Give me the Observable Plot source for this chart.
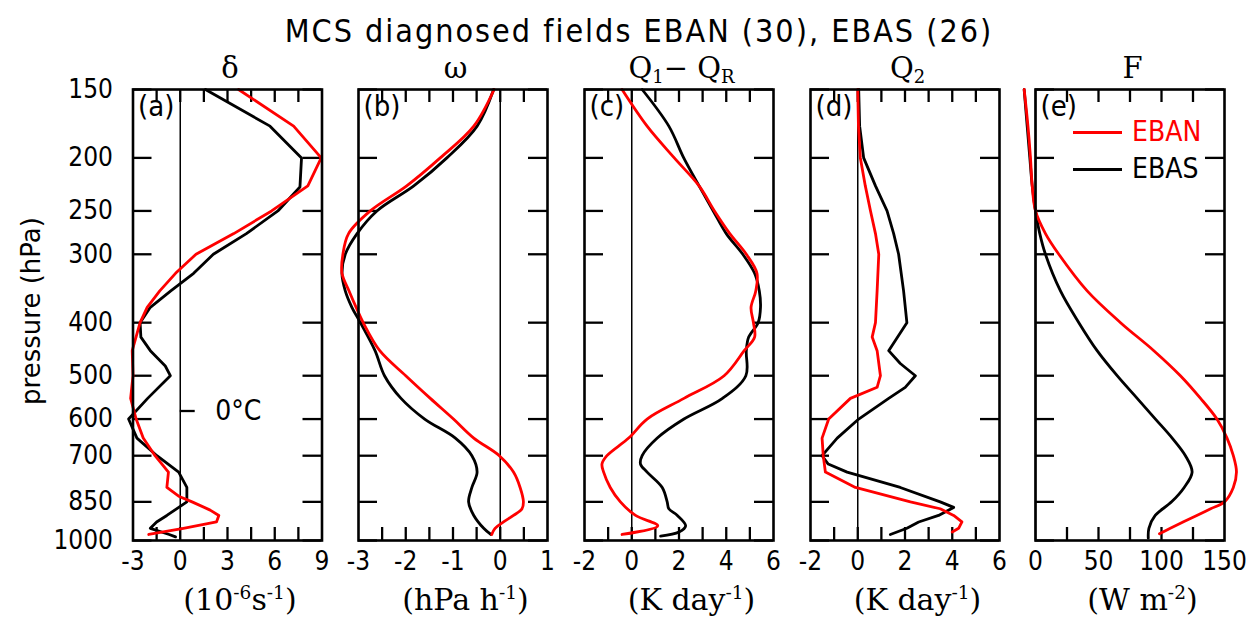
<!DOCTYPE html>
<html>
<head>
<meta charset="utf-8">
<script src="https://cdn.jsdelivr.net/npm/d3@7"></script>
<script src="https://cdn.jsdelivr.net/npm/@observablehq/plot@0.6"></script>
<style>
  html, body { margin: 0; padding: 0; background: #fff; }
  #fig { position: relative; width: 1250px; height: 619px; overflow: hidden; background: #fff; color: #000; }
  .abs { position: absolute; white-space: nowrap; line-height: 1; }
  .hershey { font-family: "DejaVu Sans Condensed", "DejaVu Sans", sans-serif; }
  .serif { font-family: "DejaVu Serif", "Liberation Serif", serif; }
  .center { transform: translate(-50%, -50%); }
  sub, sup { font-size: 0.62em; line-height: 0; }
  sup { vertical-align: 0.6em; }
  sub { vertical-align: -0.3em; }
</style>
</head>
<body>
<div id="fig"></div>
<script>
// ---------------- data ----------------
const pressureTicks = [150, 200, 250, 300, 400, 500, 600, 700, 850, 1000];
const seriesNames = ["EBAN", "EBAS"];
const seriesColors = ["#ff0000", "#000000"];

// (a) divergence delta (1e-6 s^-1)
const deltaP_EBAS = [150,175,200,226,250,275,300,325,350,375,400,425,450,480,500,550,600,650,700,750,800,850,900,925,950,975,985];
const deltaEBAS   = [1.6,5.7,7.7,7.6,6.2,4.2,2.1,0.85,-0.6,-1.9,-2.55,-2.5,-1.9,-0.95,-0.63,-2.07,-3.28,-2.75,-1.48,-0.1,0.42,0.42,-0.85,-1.5,-1.9,-0.7,-0.3];
const deltaP_EBAN = [150,175,200,225,250,275,300,325,350,375,400,450,500,550,600,650,700,750,800,830,850,880,900,925,950,975];
const deltaEBAN   = [3.7,7.2,8.95,8.1,5.8,3.4,1.0,-0.3,-1.3,-2.1,-2.55,-3.05,-3.0,-3.15,-2.8,-2.35,-1.6,-0.75,-0.85,-0.1,0.75,1.9,2.45,2.3,0.2,-2.0];
const deltaMinor  = [-1.5,0,1.5,3,4.5,6,7.5];
const deltaLabels = [-3,0,3,6,9];
const freezingLevel = 580;
const freezingLabel = "0°C";

// (b) omega (hPa h^-1)
const omegaP_EBAS = [150,175,200,225,250,275,300,325,350,375,400,450,500,550,600,650,700,750,800,850,900,950,975];
const omegaEBAS   = [-0.14,-0.49,-1.13,-1.83,-2.61,-3.03,-3.28,-3.35,-3.28,-3.14,-2.96,-2.65,-2.45,-2.1,-1.6,-0.95,-0.6,-0.49,-0.6,-0.67,-0.56,-0.35,-0.2];
const omegaP_EBAN = [150,175,200,225,250,275,300,325,350,375,400,450,500,550,600,650,700,750,800,850,875,900,925,950,975];
const omegaEBAN   = [-0.13,-0.56,-1.27,-1.98,-2.75,-3.21,-3.33,-3.35,-3.2,-3.05,-2.9,-2.55,-2.0,-1.48,-0.99,-0.56,-0.02,0.28,0.42,0.49,0.46,0.28,0.07,-0.11,-0.18];
const omegaMinor  = [-2.5,-2,-1.5,-1,-0.5,0,0.5];
const omegaLabels = [-3,-2,-1,0,1];

// (c) Q1 - QR (K day^-1)
const q1P_EBAS = [150,175,200,225,250,275,300,325,350,375,400,425,450,500,550,600,650,700,725,750,800,850,875,900,940,965,982];
const q1EBAS   = [0.44,1.57,2.2,2.85,3.45,4.0,4.7,5.2,5.4,5.45,5.35,4.95,4.85,4.83,3.84,2.21,1.08,0.44,0.37,0.65,1.29,1.5,1.57,1.93,2.28,2.0,1.22];
const q1P_EBAN = [150,175,200,225,250,275,300,325,350,375,400,425,450,500,550,600,650,700,725,750,800,850,900,940,975];
const q1EBAN   = [-0.41,0.65,1.8,2.85,3.5,4.15,4.85,5.3,5.25,5.05,5.15,5.2,4.76,3.91,2.21,0.65,-0.13,-1.05,-1.26,-1.19,-0.91,-0.48,0.16,1.1,-0.41];
const q1Minor  = [-1,0,1,2,3,4,5];
const q1Labels = [-2,0,2,4,6];

// (d) Q2 (K day^-1)
const q2P_EBAS = [150,175,200,225,250,275,300,350,400,450,475,500,525,550,600,650,700,725,750,800,850,870,900,925,950,975];
const q2EBAS   = [0.04,0.08,0.25,0.75,1.24,1.52,1.73,1.94,2.08,1.31,1.8,2.44,2.01,1.31,0.04,-0.87,-1.51,-1.25,-0.45,1.8,3.49,4.06,3.42,2.58,2.08,1.38];
const q2P_EBAN = [150,175,200,225,250,275,300,350,400,425,450,500,525,550,600,650,700,750,800,850,875,900,925,950,965];
const q2EBAN   = [0,0.03,0.11,0.32,0.54,0.75,0.89,0.82,0.75,0.61,0.82,0.96,0.82,-0.31,-1.23,-1.51,-1.46,-1.37,-0.1,2.23,3.49,4.06,4.41,4.27,4.0];
const q2Minor  = [-1,0,1,2,3,4,5];
const q2Labels = [-2,0,2,4,6];

// (e) F (W m^-2)
const fP_EBAS = [150,175,200,225,250,275,300,350,400,450,500,550,600,650,700,750,800,850,900,950,990];
const fEBAS   = [-9,-6.6,-4.5,-2.6,0,3.4,7.9,19.8,34.4,48.9,64.8,80.7,95.2,108.5,119,124.3,118,108,95,90,89.5];
const fP_EBAN = [150,175,200,225,250,275,300,350,400,450,500,550,600,650,700,750,800,850,875,900,950,972];
const fEBAN   = [-9,-6,-4,-2.6,0,7.9,18.5,41,67.5,93.9,115,131,144,152,157,159.5,157,150,139,128,107,98.4];
const fMinor  = [25,50,75,100,125];
const fLabels = [0,50,100,150];

const panelTags   = ["(a)", "(b)", "(c)", "(d)", "(e)"];
const panelTitles = ["δ", "ω", "Q<sub>1</sub>− Q<sub>R</sub>", "Q<sub>2</sub>", "F"];
const panelUnits  = ["(10<sup>-6</sup>s<sup>-1</sup>)", "(hPa h<sup>-1</sup>)", "(K day<sup>-1</sup>)", "(K day<sup>-1</sup>)", "(W m<sup>-2</sup>)"];
const titleText = "MCS diagnosed fields EBAN (30), EBAS (26)";
const yLabel = "pressure (hPa)";

// ---------------- layout ----------------
const FRAME_TOP = 89, FRAME_H = 451, FRAME_W = 189;
const MT = 12, MB = 52;
const FONT = '"DejaVu Sans Condensed","DejaVu Sans",sans-serif';
const fig = document.getElementById("fig");

function addHTML(html, cls, style) {
  const d = document.createElement("div");
  d.className = "abs " + cls;
  d.innerHTML = html;
  Object.assign(d.style, style);
  fig.appendChild(d);
  return d;
}

const panels = [
  {left: 132.5, domain: [-3, 9], minor: deltaMinor, labels: deltaLabels, eP: deltaP_EBAS, e: deltaEBAS, nP: deltaP_EBAN, n: deltaEBAN, curve: "linear", yAxis: true, freezing: true},
  {left: 358, domain: [-3, 1], minor: omegaMinor, labels: omegaLabels, eP: omegaP_EBAS, e: omegaEBAS, nP: omegaP_EBAN, n: omegaEBAN, curve: "catmull-rom"},
  {left: 584, domain: [-2, 6], minor: q1Minor, labels: q1Labels, eP: q1P_EBAS, e: q1EBAS, nP: q1P_EBAN, n: q1EBAN, curve: "catmull-rom"},
  {left: 810, domain: [-2, 6], minor: q2Minor, labels: q2Labels, eP: q2P_EBAS, e: q2EBAS, nP: q2P_EBAN, n: q2EBAN, curve: "linear"},
  {left: 1035, domain: [0, 150], minor: fMinor, labels: fLabels, eP: fP_EBAS, e: fEBAS, nP: fP_EBAN, n: fEBAN, curve: "catmull-rom"}
];

const rows = (P, V) => P.map((p, i) => ({p, v: V[i]}));
const tickStyle = {stroke: "#000", strokeOpacity: 1, strokeWidth: 2.3};

panels.forEach((cfg, k) => {
  const ml = cfg.yAxis ? cfg.left : 24;
  const mr = 30;
  const marks = [
    Plot.ruleX([0], {stroke: "#000", strokeWidth: 1.5}),
    Plot.gridX(cfg.minor, {insetTop: FRAME_H - 13, ...tickStyle}),
    Plot.gridX(cfg.minor, {insetBottom: FRAME_H - 13, ...tickStyle}),
    Plot.gridY(pressureTicks, {insetRight: FRAME_W - 19, ...tickStyle}),
    Plot.gridY(pressureTicks, {insetLeft: FRAME_W - 19, ...tickStyle}),
    Plot.axisX(cfg.labels, {anchor: "bottom", tickSize: 0, tickPadding: 11, tickFormat: d => String(d), label: null, fontSize: 26}),
    Plot.line(rows(cfg.eP, cfg.e), {x: "v", y: "p", stroke: seriesColors[1], strokeWidth: 2.8, curve: cfg.curve, strokeLinejoin: "round"}),
    Plot.line(rows(cfg.nP, cfg.n), {x: "v", y: "p", stroke: seriesColors[0], strokeWidth: 2.8, curve: cfg.curve, strokeLinejoin: "round"}),
    Plot.frame({stroke: "#000", strokeWidth: 2.6}),
    Plot.text([panelTags[k]], {frameAnchor: "top-left", dx: 5, dy: 6, textAnchor: "start", lineAnchor: "top", fontSize: 29})
  ];
  if (cfg.yAxis) {
    marks.push(Plot.axisY(pressureTicks, {anchor: "left", tickSize: 0, tickPadding: 20, tickFormat: d => String(d), label: null, fontSize: 26}));
    marks.push(Plot.text([yLabel], {frameAnchor: "left", textAnchor: "middle", rotate: -90, dx: -101, dy: -4, fontSize: 26, fontFamily: '"DejaVu Sans", sans-serif'}));
  }
  if (cfg.freezing) {
    marks.push(Plot.ruleY([freezingLevel], {x1: 0, x2: 0.95, stroke: "#000", strokeWidth: 2.3}));
    marks.push(Plot.text([{p: freezingLevel, t: freezingLabel}], {x: 0, y: "p", text: "t", dx: 35, textAnchor: "start", fontSize: 28}));
  }
  const chart = Plot.plot({
    width: ml + FRAME_W + mr,
    height: MT + FRAME_H + MB,
    marginLeft: ml, marginRight: mr, marginTop: MT, marginBottom: MB,
    x: {domain: cfg.domain},
    y: {type: "log", domain: [150, 1000], reverse: true, axis: cfg.yAxis ? undefined : null},
    style: {fontFamily: FONT, fontSize: "26px", background: "transparent", overflow: "visible", maxWidth: "none", color: "#000"},
    marks
  });
  const wrap = document.createElement("div");
  wrap.className = "abs";
  wrap.style.left = (cfg.left - ml) + "px";
  wrap.style.top = (FRAME_TOP - MT) + "px";
  wrap.appendChild(chart);
  fig.appendChild(wrap);

  const cx = cfg.left + FRAME_W / 2;
  addHTML(panelTitles[k], "serif center", {left: (cx + 3) + "px", top: "68px", fontSize: "29px"});
  addHTML(panelUnits[k], "serif center", {left: (cx + 13) + "px", top: "600px", fontSize: "30px"});
});

// title
addHTML(titleText, "hershey center", {left: "639px", top: "31px", fontSize: "32px", letterSpacing: "2px"});

// legend inside panel (e)
seriesNames.forEach((name, i) => {
  const y = 132 + i * 37;
  addHTML("", "", {left: "1073px", top: (y - 1.5) + "px", width: "49px", height: "3px", background: seriesColors[i]});
  addHTML(name, "hershey", {left: "1132px", top: y + "px", fontSize: "28px", color: seriesColors[i], transform: "translateY(-50%)"});
});
</script>
</body>
</html>
